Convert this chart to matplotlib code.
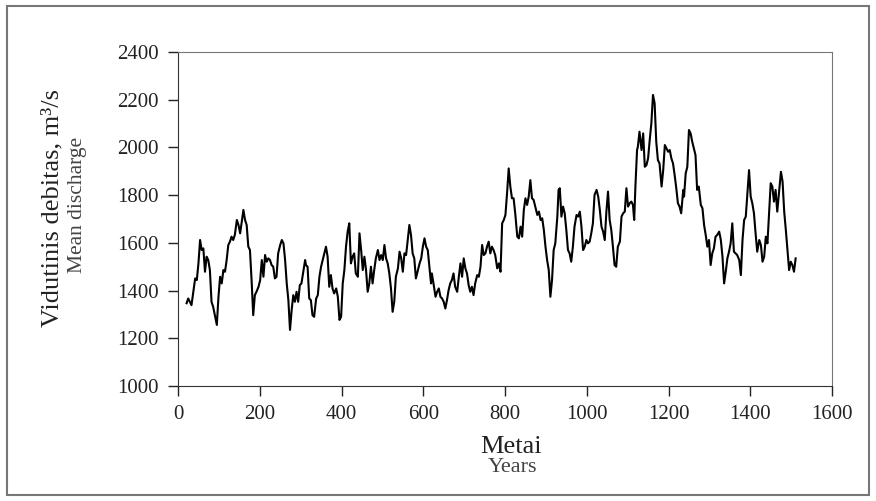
import numpy as np
import matplotlib
matplotlib.use("Agg")
import matplotlib.pyplot as plt
from matplotlib.patches import Rectangle

# values, in five pieces along the time axis
years_1 = [21, 25, 33, 42, 46, 50, 54, 58, 62, 66, 70, 74, 78, 82, 86, 95, 99, 103, 107, 111,
           115, 119, 123, 127, 131, 135, 139, 144, 148, 152, 156, 160, 164, 168, 172, 176, 180, 184, 188, 192,
           197, 201, 205, 209, 213, 217, 221, 225, 229, 233, 237, 241, 245, 250, 254, 258, 262, 266, 270, 274,
           278, 282, 286, 290, 294, 298, 302, 307, 311]
flow_1 = [1347, 1367, 1339, 1451, 1444, 1514, 1612, 1570, 1577, 1479, 1542, 1528, 1486, 1353, 1332, 1256, 1374, 1458, 1430, 1486,
          1479, 1528, 1591, 1605, 1626, 1612, 1633, 1696, 1675, 1640, 1689, 1738, 1696, 1675, 1584, 1570, 1444, 1297, 1381, 1395,
          1416, 1444, 1528, 1458, 1549, 1521, 1535, 1528, 1507, 1500, 1451, 1458, 1556, 1591, 1612, 1598, 1528, 1430, 1360, 1235,
          1318, 1381, 1353, 1395, 1353, 1423, 1430, 1486, 1528]

years_2 = [313, 317, 321, 325, 329, 333, 338, 342, 346, 350, 354, 358, 362, 366, 370, 374, 378, 382, 387, 391,
           395, 399, 403, 407, 411, 415, 419, 423, 427, 431, 435, 440, 444, 448, 452, 456, 460, 464, 468, 472,
           476, 480, 484, 489, 493, 497, 501, 505, 509, 513, 517, 521, 525, 529, 533, 538, 542, 546, 550, 554,
           558, 562, 566, 570, 574, 578, 582, 587, 591, 595, 599, 603, 607, 611, 615, 619]
flow_2 = [1507, 1500, 1367, 1360, 1297, 1290, 1367, 1381, 1458, 1500, 1528, 1556, 1584, 1542, 1416, 1465, 1409, 1388, 1409, 1374,
          1277, 1290, 1430, 1486, 1584, 1647, 1682, 1514, 1542, 1556, 1472, 1458, 1640, 1570, 1486, 1542, 1486, 1395, 1430, 1500,
          1430, 1486, 1535, 1570, 1528, 1549, 1528, 1591, 1535, 1514, 1472, 1409, 1311, 1353, 1458, 1493, 1563, 1535, 1479, 1556,
          1549, 1612, 1675, 1633, 1556, 1535, 1451, 1486, 1514, 1535, 1584, 1619, 1584, 1570, 1500, 1430]

years_3 = [621, 625, 630, 634, 638, 642, 646, 650, 654, 658, 662, 666, 670, 674, 678, 683, 687, 691, 695, 699,
           703, 707, 711, 715, 719, 723, 727, 732, 736, 740, 744, 748, 752, 756, 760, 764, 768, 772, 776, 781,
           785, 789, 793, 797, 801, 805, 809, 813, 817, 821, 825, 830, 834, 838, 842, 846, 850, 854, 858, 862,
           866, 870, 874, 879, 883, 887, 891, 895, 899, 903, 907, 911, 915, 919, 923, 928]
flow_3 = [1472, 1430, 1374, 1395, 1409, 1374, 1367, 1353, 1325, 1360, 1402, 1430, 1444, 1472, 1416, 1395, 1458, 1514, 1458, 1535,
          1493, 1472, 1423, 1395, 1416, 1381, 1430, 1465, 1458, 1500, 1591, 1549, 1556, 1584, 1605, 1556, 1584, 1570, 1549, 1493,
          1514, 1479, 1682, 1696, 1717, 1808, 1912, 1836, 1787, 1787, 1724, 1626, 1619, 1668, 1626, 1738, 1787, 1759, 1794, 1863,
          1787, 1780, 1752, 1717, 1731, 1696, 1703, 1654, 1584, 1528, 1486, 1374, 1444, 1570, 1598, 1710]

years_4 = [931, 934, 938, 942, 946, 950, 954, 958, 962, 966, 970, 975, 979, 983, 987, 991, 995, 999, 1003, 1007,
           1011, 1015, 1019, 1024, 1028, 1032, 1036, 1040, 1044, 1048, 1052, 1056, 1060, 1064, 1068, 1072, 1076, 1081, 1085, 1089,
           1093, 1097, 1101, 1105, 1109, 1113, 1116, 1119, 1123, 1125, 1129, 1134, 1138, 1142, 1146, 1150, 1154, 1158, 1162, 1166,
           1170, 1174, 1178, 1183, 1187, 1191, 1195, 1199, 1203, 1207, 1211, 1215, 1219, 1223, 1227, 1231, 1236]
flow_4 = [1822, 1829, 1710, 1752, 1724, 1654, 1570, 1556, 1521, 1584, 1668, 1717, 1710, 1731, 1668, 1570, 1584, 1612, 1598, 1605,
          1640, 1682, 1801, 1822, 1794, 1738, 1668, 1647, 1612, 1731, 1815, 1696, 1654, 1584, 1507, 1500, 1584, 1605, 1710, 1724,
          1731, 1829, 1752, 1766, 1773, 1759, 1696, 1836, 1989, 2003, 2066, 1989, 2059, 1919, 1926, 1954, 2031, 2101, 2220, 2185,
          2024, 1947, 1933, 1836, 1905, 2010, 1996, 1982, 1989, 1954, 1933, 1884, 1829, 1766, 1752, 1724, 1822]

years_5 = [1238, 1242, 1246, 1250, 1254, 1258, 1262, 1266, 1270, 1274, 1279, 1283, 1287, 1291, 1295, 1299, 1303, 1307, 1311, 1315,
           1319, 1324, 1328, 1332, 1336, 1340, 1344, 1348, 1352, 1356, 1360, 1364, 1368, 1373, 1377, 1381, 1385, 1389, 1393, 1397,
           1401, 1405, 1409, 1413, 1417, 1422, 1426, 1430, 1434, 1438, 1442, 1446, 1450, 1454, 1458, 1462, 1466, 1471, 1475, 1479,
           1483, 1487, 1491, 1495, 1499, 1503, 1507, 1511]
flow_5 = [1794, 1891, 1919, 2073, 2059, 2024, 1996, 1968, 1822, 1836, 1759, 1745, 1675, 1633, 1584, 1612, 1507, 1556, 1577, 1626,
          1633, 1647, 1612, 1542, 1430, 1479, 1535, 1563, 1598, 1682, 1563, 1556, 1549, 1528, 1465, 1612, 1696, 1710, 1808, 1905,
          1794, 1766, 1724, 1640, 1563, 1612, 1591, 1521, 1542, 1626, 1598, 1724, 1850, 1836, 1773, 1822, 1731, 1822, 1898, 1857,
          1731, 1654, 1570, 1486, 1521, 1507, 1479, 1535]

x_ticks = [0, 200, 400, 600, 800, 1000, 1200, 1400, 1600]
y_ticks = [1000, 1200, 1400, 1600, 1800, 2000, 2200, 2400]

years = np.concatenate([years_1, years_2, years_3, years_4, years_5])
flow = np.concatenate([flow_1, flow_2, flow_3, flow_4, flow_5])

plt.rcParams['font.family'] = ['Liberation Serif', 'DejaVu Serif']

fig = plt.figure(figsize=(8.76, 5.01), dpi=100)
ax = fig.add_axes([0.2032, 0.2295, 0.7466, 0.6667])

ax.plot(years, flow, color='black', lw=1.5)

ax.set_xlim(0, 1600)
ax.set_ylim(1000, 2400)
ax.set_xticks(x_ticks)
ax.set_yticks(y_ticks)
ax.tick_params(direction='out', length=7, width=1, labelsize=15, colors='#222222', pad=7)

for side in ['left', 'bottom']:
    ax.spines[side].set_color('#333333')
for side in ['top', 'right']:
    ax.spines[side].set_color('#777777')

# axis titles, two lines each
fig.text(0.06, 0.584, 'Vidutinis debitas, m³/s', rotation=90, ha='center', va='center',
         fontsize=19, color='#222222')
fig.text(0.088, 0.591, 'Mean discharge', rotation=90, ha='center', va='center',
         fontsize=15.5, color='#444444')
fig.text(0.583, 0.108, 'Metai', ha='center', va='center', fontsize=19, color='#222222')
fig.text(0.585, 0.066, 'Years', ha='center', va='center', fontsize=16, color='#444444')

# grey frame round the whole picture
fig.patches.append(Rectangle((7 / 876, 6 / 501), 862 / 876, 489 / 501, transform=fig.transFigure,
                             fill=False, edgecolor='#777777', lw=1.5))

fig.savefig('out.png', dpi=100)
